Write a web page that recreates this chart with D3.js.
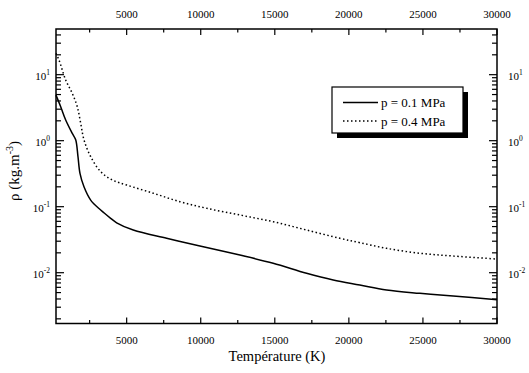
<!DOCTYPE html>
<html>
<head>
<meta charset="utf-8">
<script src="https://cdn.jsdelivr.net/npm/d3@7"></script>
<style>
  body { margin: 0; background: #fff; }
</style>
</head>
<body>
<svg id="chart" width="529" height="373"></svg>
<script>
// temperature (K) and density (kg.m-3)
const tempLow = [230, 547, 884, 1329, 1559, 1714, 1849, 2119, 2571, 3246, 3920, 4325, 5445, 7699, 9946, 12645, 14892, 17146, 18943, 20742, 22544, 24790, 27040, 30000];
const rhoLow = [4.9, 3.27, 2.06, 1.29, 1.03, 0.573, 0.32, 0.2, 0.126, 0.089, 0.0667, 0.057, 0.0443, 0.0332, 0.0254, 0.0185, 0.0139, 0.0098, 0.00776, 0.00651, 0.00547, 0.00487, 0.00443, 0.0039];

const tempHigh = [230, 432, 884, 1329, 1667, 1896, 2119, 2571, 3246, 4028, 5000, 6795, 8596, 10398, 12645, 14892, 17146, 19392, 20742, 22544, 24790, 27040, 30000];
const rhoHigh = [21, 16.7, 8.3, 5.2, 3.27, 1.84, 1.03, 0.573, 0.34, 0.254, 0.213, 0.16, 0.119, 0.0946, 0.0748, 0.0593, 0.0443, 0.0332, 0.0285, 0.0234, 0.0197, 0.0179, 0.0161];

const xTicks = [5000, 10000, 15000, 20000, 25000, 30000];
const xMinorTicks = [2500, 7500, 12500, 17500, 22500, 27500];
const yDecades = [-2, -1, 0, 1];
const legendLabels = ['p = 0.1 MPa', 'p = 0.4 MPa'];

const svg = d3.select('#chart')
  .attr('font-family', "'Liberation Serif', 'Times New Roman', Times, serif");
const pL = 56, pR = 497, pT = 29, pB = 323.5;

const x = d3.scaleLinear().domain([230, 30000]).range([pL, pR]);
const y = d3.scaleLog().domain([0.0017, 49.2]).range([pB, pT]);

// frame
svg.append('rect')
  .attr('x', pL).attr('y', pT)
  .attr('width', pR - pL).attr('height', pB - pT)
  .attr('fill', 'none').attr('stroke', '#000').attr('stroke-width', 1.5);

// x ticks, bottom and top, pointing in
const allX = xTicks.map(d => ({ v: d, len: 6 })).concat(xMinorTicks.map(d => ({ v: d, len: 3.5 })));
allX.forEach(t => {
  svg.append('line')
    .attr('x1', x(t.v)).attr('x2', x(t.v))
    .attr('y1', pB).attr('y2', pB - t.len)
    .attr('stroke', '#000').attr('stroke-width', 1.2);
  svg.append('line')
    .attr('x1', x(t.v)).attr('x2', x(t.v))
    .attr('y1', pT).attr('y2', pT + t.len)
    .attr('stroke', '#000').attr('stroke-width', 1.2);
});

svg.selectAll('.xlab-bottom')
  .data(xTicks)
  .enter()
  .append('text')
  .attr('x', d => x(d))
  .attr('y', 344)
  .attr('text-anchor', 'middle')
  .attr('font-size', '11px')
  .text(d => d);

svg.selectAll('.xlab-top')
  .data(xTicks)
  .enter()
  .append('text')
  .attr('x', d => x(d))
  .attr('y', 18)
  .attr('text-anchor', 'middle')
  .attr('font-size', '11px')
  .text(d => d);

// y ticks (log), left and right, pointing in
const [y0, y1] = y.domain();
const yTickVals = [];
for (let e = -3; e <= 1; e++) {
  for (let m = 1; m <= 9; m++) {
    const v = m * Math.pow(10, e);
    if (v >= y0 && v <= y1) yTickVals.push({ v: v, major: m === 1 });
  }
}
yTickVals.forEach(t => {
  const len = t.major ? 8 : 5;
  svg.append('line')
    .attr('x1', pL).attr('x2', pL + len)
    .attr('y1', y(t.v)).attr('y2', y(t.v))
    .attr('stroke', '#000').attr('stroke-width', 1.2);
  svg.append('line')
    .attr('x1', pR).attr('x2', pR - len)
    .attr('y1', y(t.v)).attr('y2', y(t.v))
    .attr('stroke', '#000').attr('stroke-width', 1.2);
});

yDecades.forEach(e => {
  const ty = y(Math.pow(10, e));
  const l = svg.append('text')
    .attr('x', pL - 6)
    .attr('y', ty + 5)
    .attr('text-anchor', 'end')
    .attr('font-size', '11px');
  l.append('tspan').text('10');
  l.append('tspan').attr('dy', -5).attr('font-size', '7.5px').text(e);

  const r = svg.append('text')
    .attr('x', pR + 11)
    .attr('y', ty + 5)
    .attr('font-size', '11px');
  r.append('tspan').text('10');
  r.append('tspan').attr('dy', -5).attr('font-size', '7.5px').text(e);
});

// axis titles
svg.append('text')
  .attr('x', 277)
  .attr('y', 361)
  .attr('text-anchor', 'middle')
  .attr('font-size', '14.5px')
  .text('Température (K)');

const yt = svg.append('text')
  .attr('transform', 'translate(19,171) rotate(-90)')
  .attr('text-anchor', 'middle')
  .attr('font-size', '15px');
yt.append('tspan').text('ρ (kg.m');
yt.append('tspan').attr('dy', -6).attr('font-size', '10px').text('-3');
yt.append('tspan').attr('dy', 6).text(')');

// curves
const line = d3.line()
  .x(d => x(d[0]))
  .y(d => y(d[1]))
  .curve(d3.curveCatmullRom.alpha(0.5));

svg.append('path')
  .datum(d3.zip(tempLow, rhoLow))
  .attr('d', line)
  .attr('fill', 'none')
  .attr('stroke', '#000')
  .attr('stroke-width', 1.5);

svg.append('path')
  .datum(d3.zip(tempHigh, rhoHigh))
  .attr('d', line)
  .attr('fill', 'none')
  .attr('stroke', '#000')
  .attr('stroke-width', 1.5)
  .attr('stroke-dasharray', '1.5,2.5');

// legend
const lx = 332, ly = 87, lw = 131, lh = 46;
svg.append('rect')
  .attr('x', lx + 5).attr('y', ly + 5)
  .attr('width', lw).attr('height', lh)
  .attr('fill', '#000');
svg.append('rect')
  .attr('x', lx).attr('y', ly)
  .attr('width', lw).attr('height', lh)
  .attr('fill', '#fff').attr('stroke', '#000').attr('stroke-width', 1.2);

legendLabels.forEach((lab, i) => {
  const yy = ly + 15.5 + i * 18.5;
  svg.append('line')
    .attr('x1', lx + 11).attr('x2', lx + 46)
    .attr('y1', yy).attr('y2', yy)
    .attr('stroke', '#000').attr('stroke-width', 1.5)
    .attr('stroke-dasharray', i === 0 ? null : '1.5,2.5');
  svg.append('text')
    .attr('x', lx + 49)
    .attr('y', yy + 4.5)
    .attr('font-size', '13px')
    .text(lab);
});
</script>
</body>
</html>
